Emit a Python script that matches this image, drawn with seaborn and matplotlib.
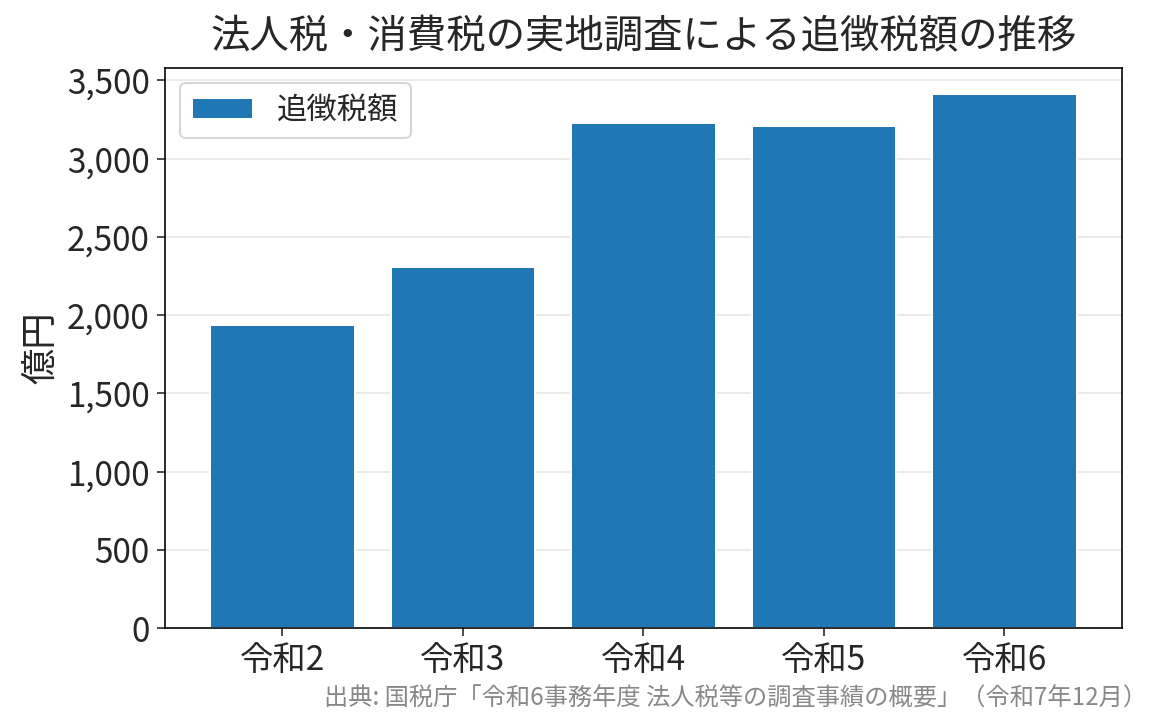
import matplotlib
matplotlib.use("Agg")
import matplotlib.pyplot as plt
import seaborn as sns
import pandas as pd
from matplotlib.ticker import FuncFormatter

years = ["令和2", "令和3", "令和4", "令和5", "令和6"]
amounts = [1939, 2310, 3228, 3206, 3415]

sns.set_style("white")
plt.rcParams['font.family'] = ['Noto Sans CJK JP', 'DejaVu Sans']

df = pd.DataFrame({"year": years, "amount": amounts})

fig = plt.figure(figsize=(8, 4.98), dpi=145.6)
ax = fig.add_axes([165 / 1165, 1 - 628 / 725, (1122 - 165) / 1165, (628 - 68) / 725])
sns.barplot(data=df, x="year", y="amount", color="#1f77b4", saturation=1, width=0.8, ax=ax, label="追徴税額")
ax.set_ylim(0, 3580)
ax.set_xlim(-0.65, 4.65)
ax.yaxis.set_major_formatter(FuncFormatter(lambda v, p: f"{int(v):,}"))
ax.set_yticks(range(0, 3501, 500))
ax.grid(axis="y", color="#e6e6e6", linewidth=0.8)
ax.set_axisbelow(True)
for s in ax.spines.values():
    s.set_color("black")
    s.set_linewidth(0.8)
ax.tick_params(axis="both", labelsize=16.5, length=4, left=True, bottom=True)
ax.set_xlabel("")
ax.set_ylabel("億円", fontsize=18)
ax.set_title("法人税・消費税の実地調査による追徴税額の推移", fontsize=19.5, pad=10)
ax.legend(loc="upper left", fontsize=15, frameon=True, edgecolor="#cccccc")
fig.text(0.985, 0.018, "出典: 国税庁「令和6事務年度 法人税等の調査事績の概要」（令和7年12月）",
         ha="right", va="bottom", fontsize=12, color="#888888")
fig.savefig("out.png", dpi=145.6)
